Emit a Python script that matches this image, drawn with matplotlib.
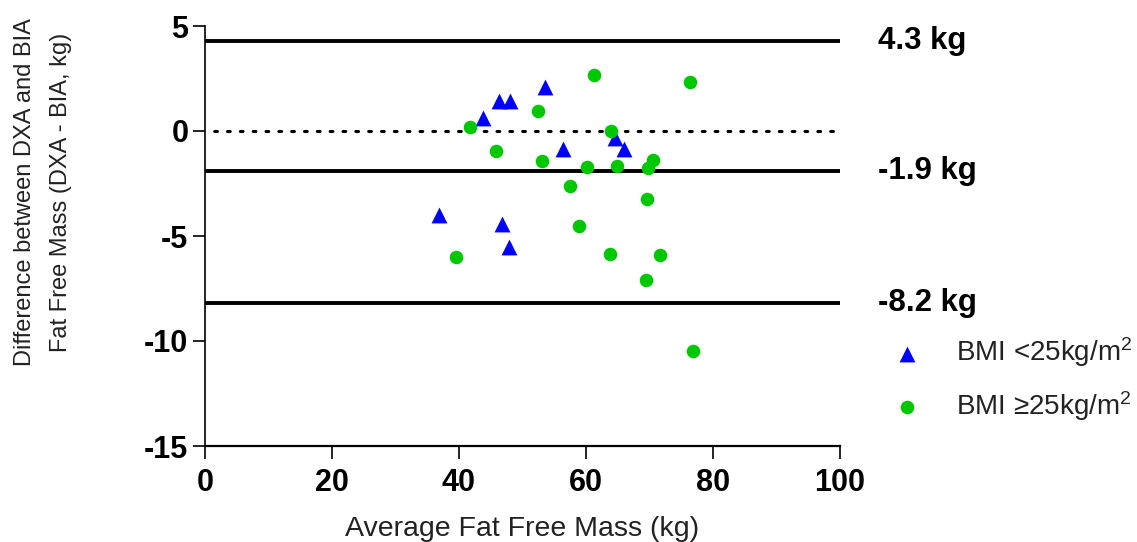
import matplotlib
matplotlib.use("Agg")
import matplotlib.pyplot as plt

# ---------- data ----------
# BMI < 25 kg/m2 (triangles)
lean_x = [46.3, 48.0, 43.8, 53.6, 56.3, 64.6, 66.0, 36.9, 46.7, 47.9]
lean_y = [1.45, 1.45, 0.6, 2.1, -0.85, -0.35, -0.85, -4.0, -4.45, -5.5]
# BMI >= 25 kg/m2 (circles)
heavy_x = [41.7, 45.8, 39.6, 61.2, 76.3, 52.5, 64.0, 53.0, 60.1, 64.9,
           70.6, 69.7, 57.5, 69.6, 58.9, 63.8, 71.6, 69.4, 76.9]
heavy_y = [0.2, -0.95, -6.0, 2.65, 2.32, 0.97, 0.0, -1.43, -1.7, -1.67,
           -1.38, -1.75, -2.62, -3.25, -4.52, -5.87, -5.9, -7.1, -10.46]

bias = -1.9
loa_upper = 4.3
loa_lower = -8.2

x_ticks = [0, 20, 40, 60, 80, 100]
y_ticks = [5, 0, -5, -10, -15]

plt.rcParams["font.family"] = ["Liberation Sans", "DejaVu Sans"]
plt.rcParams["mathtext.default"] = "regular"
plt.rcParams["axes.unicode_minus"] = False

fig = plt.figure(figsize=(11.37, 5.42), dpi=100)
ax = fig.add_axes([205 / 1137, 96 / 542, 635 / 1137, 420 / 542])

# limit-of-agreement lines and bias
for yv in (loa_upper, bias, loa_lower):
    ax.plot([0, 100], [yv, yv], color="black", lw=2.8, solid_capstyle="butt", zorder=1)
ax.plot([0, 100], [0, 0], color="black", lw=2.2, linestyle=(1.2, (0.9, 3.3)),
        dash_capstyle="round", zorder=1)

ax.scatter(lean_x, lean_y, marker="^", s=130, color="#0000ff", linewidths=0,
           label="BMI <25kg/m$^2$", zorder=3)
ax.scatter(heavy_x, heavy_y, marker="o", s=95, color="#00c800", linewidths=0,
           label="BMI \u226525kg/m$^2$", zorder=3)

for yv in (loa_upper, bias, loa_lower):
    ax.text(106, yv, f"{yv:.1f} kg", ha="left", va="center", fontsize=22.5,
            fontweight="bold", clip_on=False)

ax.set_xlim(0, 100)
ax.set_ylim(-15, 5)
ax.set_xticks(x_ticks)
ax.set_yticks(y_ticks)
ax.tick_params(axis="both", direction="out", length=9, width=1.2,
               labelsize=22, color="black")
ax.tick_params(axis="x", pad=7)
ax.tick_params(axis="y", pad=3)
for lbl in ax.get_xticklabels() + ax.get_yticklabels():
    lbl.set_fontweight("bold")

ax.spines["top"].set_visible(False)
ax.spines["right"].set_visible(False)
ax.spines["left"].set_linewidth(1.2)
ax.spines["bottom"].set_linewidth(1.6)

fig.text(522.5 / 1137, 1 - 529 / 542, "Average Fat Free Mass (kg)", ha="center",
         va="center", fontsize=20.5, color="#222222")
fig.text(43 / 1137, 1 - 192 / 542,
         "Difference between DXA and BIA\nFat Free Mass (DXA - BIA, kg)",
         ha="center", va="center", rotation=90, multialignment="center",
         fontsize=17, color="#222222", linespacing=1.8)

ax.legend(loc="upper left", bbox_to_anchor=(893 / 1137, 1 - 335 / 542),
          bbox_transform=fig.transFigure, frameon=False, fontsize=20,
          handlelength=1.0, handletextpad=1.26, labelspacing=0.72,
          borderpad=0, borderaxespad=0, scatterpoints=1, labelcolor="#222222")

fig.savefig("out.png", dpi=100, facecolor="white")
